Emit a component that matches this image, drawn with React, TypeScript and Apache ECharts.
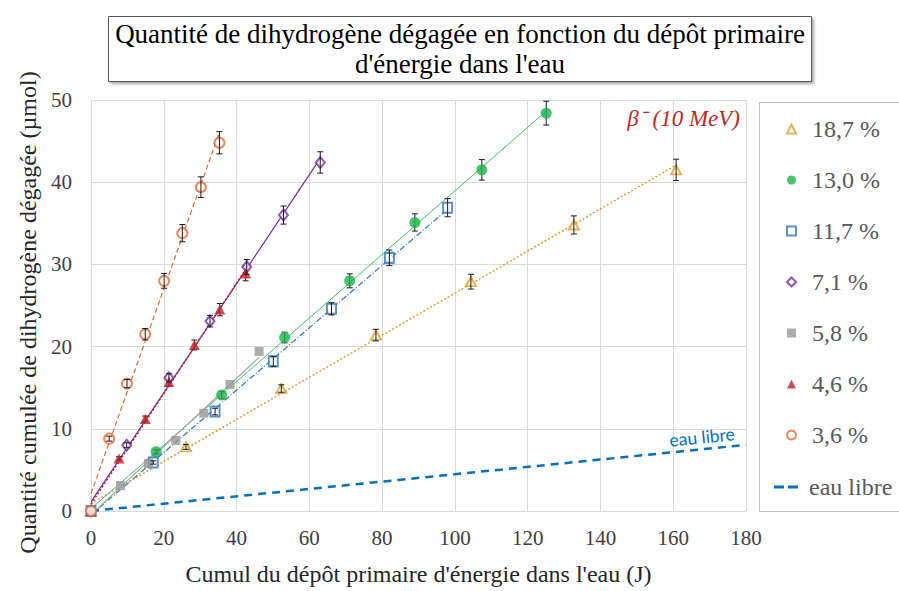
import React, { useEffect, useRef } from 'react';
import * as echarts from 'echarts';

const SERIF = "'Liberation Serif', 'Times New Roman', serif";

// Axis ranges / ticks
const X_MIN = 0, X_MAX = 180, X_STEP = 20;
const Y_MIN = 0, Y_MAX = 50, Y_STEP = 10;

// Series names (dose rates)
const NAMES = ['18,7 %', '13,0 %', '11,7 %', '7,1 %', '5,8 %', '4,6 %', '3,6 %'];
const EAU_LIBRE = 'eau libre';

// 18,7 %
const x187 = [0, 26.1, 52.3, 78.3, 104.4, 132.7, 160.8];
const y187 = [0, 7.8, 14.9, 21.4, 27.9, 34.8, 41.5];
const e187 = [0, 0.3, 0.45, 0.7, 0.9, 1.1, 1.3];
// 13,0 %
const x130 = [0, 17.9, 35.9, 53.2, 71.1, 89.0, 107.4, 125.1];
const y130 = [0, 7.2, 14.1, 21.1, 28.0, 35.1, 41.5, 48.4];
const e130 = [0, 0.25, 0.45, 0.65, 0.85, 1.05, 1.25, 1.45];
// 11,7 %
const x117 = [0, 17.1, 34.1, 50.1, 66.1, 82.0, 98.0];
const y117 = [0, 5.9, 12.1, 18.2, 24.6, 30.8, 36.9];
const e117 = [0, 0.2, 0.4, 0.6, 0.75, 0.95, 1.1];
// 7,1 %
const x71 = [0, 9.8, 21.4, 32.7, 42.8, 52.9, 63.0];
const y71 = [0, 8.0, 16.2, 23.1, 29.7, 36.0, 42.4];
const e71 = [0, 0.3, 0.5, 0.7, 0.9, 1.1, 1.3];
// 5,8 %
const x58 = [0, 8.1, 15.8, 23.3, 31.0, 38.2, 46.2];
const y58 = [0, 3.1, 5.8, 8.6, 11.9, 15.4, 19.4];
const e58: number[] = [];
// 4,6 %
const x46 = [0, 7.7, 14.9, 21.4, 28.4, 35.4, 42.5];
const y46 = [0, 6.4, 11.2, 15.7, 20.2, 24.5, 28.9];
const e46 = [0, 0.2, 0.35, 0.5, 0.6, 0.75, 0.9];
// 3,6 %
const x36 = [0, 5.0, 9.9, 14.9, 20.1, 25.1, 30.2, 35.3];
const y36 = [0, 8.8, 15.5, 21.5, 28.0, 33.8, 39.4, 44.8];
const e36 = [0, 0.3, 0.5, 0.7, 0.9, 1.05, 1.25, 1.35];

// eau libre reference line
const xEau = [0, 180];
const yEau = [0, 8.05];

const STYLES = [
  { color: '#D9A034', symbol: 'emptyTriangle', size: [10, 9], open: true, line: '#D9A034', lineType: [2, 2] as any, lineWidth: 1.5 },
  { color: '#1DB14B', symbol: 'circle', size: 11, open: false, line: '#3CC465', lineType: 'solid', lineWidth: 1 },
  { color: '#2E75B6', symbol: 'emptyRect', size: [9, 10], open: true, line: '#2E75B6', lineType: [6, 2, 1, 2] as any, lineWidth: 1.2 },
  { color: '#7030A0', symbol: 'emptyDiamond', size: [9, 11], open: true, line: '#7030A0', lineType: 'solid', lineWidth: 1.2 },
  { color: '#999999', symbol: 'rect', size: 9, open: false, line: '#A6A6A6', lineType: 'solid', lineWidth: 1.2 },
  { color: '#C0202A', symbol: 'triangle', size: [11, 10], open: false, line: '#C0202A', lineType: [2, 2] as any, lineWidth: 1.5 },
  { color: '#E26B35', symbol: 'emptyCircle', size: 10, open: true, line: '#E26B35', lineType: [5, 3] as any, lineWidth: 1.2 },
];

const XS = [x187, x130, x117, x71, x58, x46, x36];
const YS = [y187, y130, y117, y71, y58, y46, y36];
const ES = [e187, e130, e117, e71, e58, e46, e36];

function linFit(xs: number[], ys: number[]) {
  const n = xs.length;
  const mx = xs.reduce((a, b) => a + b, 0) / n;
  const my = ys.reduce((a, b) => a + b, 0) / n;
  let sxy = 0, sxx = 0;
  for (let i = 0; i < n; i++) {
    sxy += (xs[i] - mx) * (ys[i] - my);
    sxx += (xs[i] - mx) * (xs[i] - mx);
  }
  const m = sxy / sxx;
  const b = my - m * mx;
  const xmax = Math.max(...xs);
  return [[0, b], [xmax, b + m * xmax]];
}

export default function App() {
  const ref = useRef<HTMLDivElement>(null);
  useEffect(() => {
    if (!ref.current) return;
    const chart = echarts.init(ref.current, undefined, { renderer: 'svg' });
    const series: any[] = [];

    NAMES.forEach((name, i) => {
      const st = STYLES[i];
      // trendline
      series.push({
        type: 'line',
        name: name + ' (tendance)',
        data: linFit(XS[i], YS[i]),
        showSymbol: false,
        symbol: 'none',
        silent: true,
        z: 2,
        lineStyle: { color: st.line, width: st.lineWidth, type: st.lineType },
      });
      // error bars
      if (ES[i].length) {
        series.push({
          type: 'custom',
          name: name + ' (erreur)',
          z: st.open ? 6 : 3,
          silent: true,
          encode: { x: 0, y: 1 },
          data: XS[i].map((x, k) => [x, YS[i][k], ES[i][k]]),
          renderItem: (params: any, api: any) => {
            const x = api.value(0), y = api.value(1), e = api.value(2);
            if (!e) return null;
            const top = api.coord([x, y + e]);
            const bot = api.coord([x, y - e]);
            const w = 3;
            const style = { stroke: '#1a1a1a', lineWidth: 1 };
            return {
              type: 'group',
              children: [
                { type: 'line', shape: { x1: top[0], y1: top[1], x2: bot[0], y2: bot[1] }, style },
                { type: 'line', shape: { x1: top[0] - w, y1: top[1], x2: top[0] + w, y2: top[1] }, style },
                { type: 'line', shape: { x1: bot[0] - w, y1: bot[1], x2: bot[0] + w, y2: bot[1] }, style },
              ],
            };
          },
        });
      }
      // markers
      series.push({
        type: 'scatter',
        name,
        data: XS[i].map((x, k) => [x, YS[i][k]]),
        symbol: st.symbol,
        symbolSize: st.size,
        z: 4,
        itemStyle: { color: st.color, borderWidth: st.open ? 1.2 : 0 },
      });
    });

    series.push({
      type: 'line',
      name: EAU_LIBRE,
      data: xEau.map((x, k) => [x, yEau[k]]),
      showSymbol: false,
      symbol: 'none',
      color: '#0070C0',
      z: 2,
      lineStyle: { color: '#0070C0', width: 2.5, type: [8, 6] },
    });

    const legendText = { fontFamily: SERIF, fontSize: 24, color: '#595959', lineHeight: 24 };

    chart.setOption({
      animation: false,
      backgroundColor: '#ffffff',
      title: {
        text: "Quantité de dihydrogène dégagée en fonction du dépôt primaire\nd'énergie dans l'eau",
        left: 460,
        top: 19,
        textAlign: 'center',
        padding: 0,
        textStyle: { fontFamily: SERIF, fontSize: 27, fontWeight: 'normal', color: '#000', lineHeight: 30 },
      },
      grid: { left: 91, right: 153, top: 100, bottom: 78 },
      xAxis: {
        type: 'value',
        min: X_MIN, max: X_MAX, interval: X_STEP,
        name: "Cumul du dépôt primaire d'énergie dans l'eau (J)",
        nameLocation: 'middle',
        nameGap: 51,
        nameTextStyle: { fontFamily: SERIF, fontSize: 24, color: '#262626' },
        axisLine: { show: false },
        axisTick: { show: false },
        axisLabel: { fontFamily: SERIF, fontSize: 21, color: '#404040', margin: 16 },
        splitLine: { show: true, lineStyle: { color: '#D9D9D9', width: 1 } },
      },
      yAxis: {
        type: 'value',
        min: Y_MIN, max: Y_MAX, interval: Y_STEP,
        name: 'Quantité cumulée de dihydrogène dégagée (µmol)',
        nameLocation: 'middle',
        nameGap: 49,
        nameTextStyle: { fontFamily: SERIF, fontSize: 24, color: '#262626', padding: [0, 14, 0, 0] },
        axisLine: { show: false },
        axisTick: { show: false },
        axisLabel: { fontFamily: SERIF, fontSize: 21, color: '#404040', margin: 19 },
        splitLine: { show: true, lineStyle: { color: '#D9D9D9', width: 1 } },
      },
      legend: [
        {
          orient: 'vertical',
          left: 786,
          top: 117,
          padding: 0,
          itemWidth: 9,
          itemHeight: 9,
          itemGap: 27,
          selectedMode: false,
          data: NAMES,
          textStyle: { ...legendText, padding: [0, 0, 0, 11] },
        },
        {
          orient: 'vertical',
          left: 774,
          top: 475,
          padding: 0,
          itemWidth: 24,
          itemHeight: 3,
          selectedMode: false,
          data: [{ name: EAU_LIBRE, icon: 'path://M0,0H10V3H0Z M14,0H24V3H14Z', itemStyle: { color: '#0070C0' } }],
          textStyle: { ...legendText, padding: [0, 0, 0, 6] },
        },
      ],
      graphic: [
        {
          type: 'rect',
          z: 0,
          shape: { x: 108.5, y: 16.5, width: 703, height: 65 },
          style: { fill: '#fff', stroke: '#595959', lineWidth: 1, shadowBlur: 3, shadowOffsetX: 2, shadowOffsetY: 2, shadowColor: 'rgba(0,0,0,0.35)' },
        },
        {
          type: 'rect',
          z: 0,
          shape: { x: 759.5, y: 102.5, width: 160, height: 409 },
          style: { fill: 'none', stroke: '#BFBFBF', lineWidth: 1 },
        },
        {
          type: 'text',
          z: 10,
          x: 740,
          y: 118,
          style: {
            text: 'β\u207B (10 MeV)',
            fontFamily: SERIF,
            fontStyle: 'italic',
            fontSize: 23,
            fill: '#C0282D',
            textAlign: 'right',
            textVerticalAlign: 'middle',
          },
        },
        {
          type: 'text',
          z: 10,
          x: 702,
          y: 437,
          rotation: 0.1,
          style: {
            text: 'eau libre',
            fontFamily: 'Lato, "Open Sans", sans-serif',
            fontSize: 17.5,
            fill: '#0070C0',
            textAlign: 'center',
            textVerticalAlign: 'middle',
          },
        },
      ],
      series,
    });
    return () => chart.dispose();
  }, []);
  return <div ref={ref} style={{ position: 'fixed', left: 0, top: 0, width: 899, height: 591 }} />;
}
